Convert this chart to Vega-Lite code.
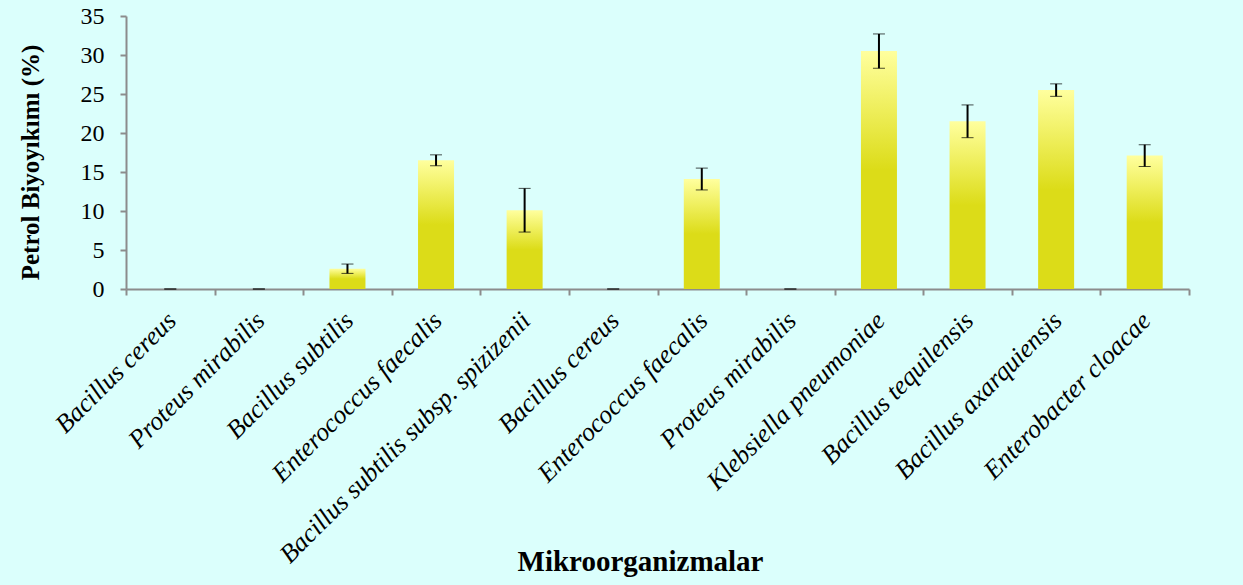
{
  "$schema": "https://vega.github.io/schema/vega-lite/v6.json",
  "autosize": "none",
  "width": 1063,
  "height": 273,
  "padding": {"left": 126, "top": 16, "right": 54, "bottom": 296},
  "background": "#dbfffc",
  "config": {
    "view": {"stroke": null},
    "font": "Liberation Serif"
  },
  "data": {
    "values": [
      {"id": "Bacillus cereus|1", "value": 0, "err": 0},
      {"id": "Proteus mirabilis|2", "value": 0, "err": 0},
      {"id": "Bacillus subtilis|3", "value": 2.6, "err": 0.6},
      {"id": "Enterococcus faecalis|4", "value": 16.5, "err": 0.7},
      {"id": "Bacillus subtilis subsp. spizizenii|5", "value": 10.1, "err": 2.8},
      {"id": "Bacillus cereus|6", "value": 0, "err": 0},
      {"id": "Enterococcus faecalis|7", "value": 14.1, "err": 1.4},
      {"id": "Proteus mirabilis|8", "value": 0, "err": 0},
      {"id": "Klebsiella pneumoniae|9", "value": 30.5, "err": 2.2},
      {"id": "Bacillus tequilensis|10", "value": 21.5, "err": 2.1},
      {"id": "Bacillus axarquiensis|11", "value": 25.5, "err": 0.8},
      {"id": "Enterobacter cloacae|12", "value": 17.1, "err": 1.4}
    ]
  },
  "encoding": {
    "x": {
      "field": "id",
      "type": "nominal",
      "sort": null,
      "scale": {"paddingInner": 0, "paddingOuter": 0},
      "axis": {
        "title": "Mikroorganizmalar",
        "titleFont": "Liberation Serif",
        "titleFontSize": 29,
        "titleFontWeight": "bold",
        "titleColor": "#000000",
        "titleX": 514,
        "titleY": 281,
        "titleBaseline": "alphabetic",
        "labelExpr": "split(datum.label, '|')[0]",
        "labelAngle": -45,
        "labelFont": "Liberation Serif",
        "labelFontStyle": "italic",
        "labelFontSize": 26,
        "labelColor": "#000000",
        "labelPadding": 12,
        "labelOffset": -8,
        "labelLimit": 0,
        "tickBand": "extent",
        "tickSize": 6,
        "tickColor": "#8c8c8c",
        "tickWidth": 2,
        "domainColor": "#8c8c8c",
        "domainWidth": 2
      }
    },
    "y": {
      "field": "value",
      "type": "quantitative",
      "title": "Petrol  Biyoyıkımı (%)",
      "scale": {"domain": [0, 35]},
      "axis": {
        "title": "Petrol  Biyoyıkımı (%)",
        "titleFont": "Liberation Serif",
        "titleFontSize": 25,
        "titleFontWeight": "bold",
        "titleColor": "#000000",
        "titleX": -96,
        "titleY": 146,
        "titleAngle": -90,
        "titleAlign": "center",
        "titleBaseline": "middle",
        "values": [0, 5, 10, 15, 20, 25, 30, 35],
        "grid": false,
        "labelFont": "Liberation Serif",
        "labelFontSize": 24,
        "labelColor": "#000000",
        "labelPadding": 16,
        "tickSize": 6,
        "tickColor": "#8c8c8c",
        "tickWidth": 2,
        "domainColor": "#8c8c8c",
        "domainWidth": 2
      }
    }
  },
  "layer": [
    {
      "mark": {
        "type": "bar",
        "size": 36,
        "color": {
          "gradient": "linear",
          "x1": 0, "y1": 0, "x2": 0, "y2": 1,
          "stops": [
            {"offset": 0, "color": "#ffff9e"},
            {"offset": 0.25, "color": "#eeee5a"},
            {"offset": 0.5, "color": "#dcdc18"},
            {"offset": 1, "color": "#dcdc18"}
          ]
        }
      }
    },
    {
      "mark": {"type": "errorbar", "ticks": {"size": 12, "color": "#000000", "strokeWidth": 2}, "rule": {"color": "#000000", "strokeWidth": 2}},
      "encoding": {
        "yError": {"field": "err"}
      }
    }
  ]
}
